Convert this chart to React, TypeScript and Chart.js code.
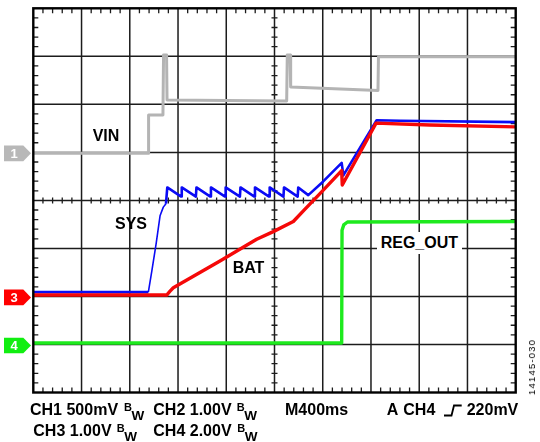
import React, { useEffect, useRef } from "react";
import { Chart, registerables } from "chart.js";

Chart.register(...registerables);

// ---- data (time in ms, 400 ms/div; vertical position in screen divisions 0..8) ----
const TIME_PER_DIV = 400;
const X_DIVS = 10;
const Y_DIVS = 8;

const VIN_T = [0, 954, 956, 1075, 1080, 1105, 1109, 2101, 2106, 2129, 2134, 2858, 2862, 4000];
const VIN_V = [4.98, 4.98, 5.78, 5.78, 7.03, 7.03, 6.09, 6.07, 7.03, 7.03, 6.36, 6.29, 6.99, 6.99];

const SYS_T = [
  0, 954, 984, 1018, 1051, 1078, 1100, 1111,
  1226, 1231, 1348, 1353, 1468, 1473, 1590, 1595, 1713, 1718,
  1833, 1838, 1955, 1960, 2074, 2079, 2192, 2197,
  2280, 2402, 2557, 2571, 2847, 3041, 4000,
];
const SYS_V = [
  2.09, 2.09, 2.55, 3.09, 3.68, 3.86, 3.93, 4.27,
  4.08, 4.27, 4.08, 4.27, 4.08, 4.27, 4.08, 4.27, 4.08, 4.27,
  4.08, 4.27, 4.08, 4.27, 4.08, 4.27, 4.08, 4.27,
  4.11, 4.39, 4.78, 4.52, 5.67, 5.66, 5.63,
];

const BAT_T = [0, 1106, 1134, 1161, 1548, 1852, 1990, 2156, 2253, 2377, 2557, 2562, 2842, 3289, 4000];
const BAT_V = [2.03, 2.03, 2.11, 2.18, 2.74, 3.19, 3.35, 3.56, 3.82, 4.14, 4.62, 4.32, 5.61, 5.57, 5.53];

const REG_T = [0, 2557, 2560, 2574, 2605, 4000];
const REG_V = [1.03, 1.03, 3.38, 3.49, 3.55, 3.56];

const MARKER_LEVELS = [4.98, 1.98, 0.98];
const MARKER_NAMES = ["1", "3", "4"];
const MARKER_COLORS = ["#b8b8b8", "#ff0000", "#11ee11"];

const SETTINGS_ROW1 = ["CH1 500mV", "CH2 1.00V"];
const SETTINGS_ROW2 = ["CH3 1.00V", "CH4 2.00V"];
const TIMEBASE = "M400ms";
const TRIGGER = ["A", "CH4", "220mV"];
const FIG_ID = "14145-030";

// ---- layout ----
const W = 540;
const H = 442;
const PLOT = { left: 33.3, top: 8.3, right: 515.7, bottom: 392.5 };
const FONT = "'Liberation Sans', Arial, Helvetica, sans-serif";
const DIV_H = (PLOT.bottom - PLOT.top) / Y_DIVS;
const levelToPx = (v: number) => PLOT.bottom - v * DIV_H;

const pts = (t: number[], v: number[]) => t.map((x, i) => ({ x, y: v[i] }));

const scopePlugin = {
  id: "scopeGrid",
  beforeDatasetsDraw(chart: any) {
    const { ctx, chartArea: a, scales } = chart;
    const xs = scales.x;
    const ys = scales.y;
    ctx.save();
    ctx.strokeStyle = "#1c1c1c";
    ctx.lineWidth = 1.5;
    ctx.beginPath();
    for (let i = 1; i < X_DIVS; i++) {
      const px = xs.getPixelForValue(i * TIME_PER_DIV);
      ctx.moveTo(px, a.top);
      ctx.lineTo(px, a.bottom);
    }
    for (let j = 1; j < Y_DIVS; j++) {
      const py = ys.getPixelForValue(j);
      ctx.moveTo(a.left, py);
      ctx.lineTo(a.right, py);
    }
    ctx.stroke();
    // minor ticks
    ctx.lineWidth = 1.3;
    ctx.beginPath();
    const cy = ys.getPixelForValue(Y_DIVS / 2);
    const cx = xs.getPixelForValue((X_DIVS / 2) * TIME_PER_DIV);
    for (let k = 1; k < X_DIVS * 5; k++) {
      if (k % 5 === 0) continue;
      const px = xs.getPixelForValue((k * TIME_PER_DIV) / 5);
      ctx.moveTo(px, a.top);
      ctx.lineTo(px, a.top + 5);
      ctx.moveTo(px, a.bottom - 5);
      ctx.lineTo(px, a.bottom);
      ctx.moveTo(px, cy - 3);
      ctx.lineTo(px, cy + 3);
    }
    for (let k = 1; k < Y_DIVS * 5; k++) {
      if (k % 5 === 0) continue;
      const py = ys.getPixelForValue(k / 5);
      ctx.moveTo(a.left, py);
      ctx.lineTo(a.left + 5, py);
      ctx.moveTo(a.right - 5, py);
      ctx.lineTo(a.right, py);
      ctx.moveTo(cx - 3, py);
      ctx.lineTo(cx + 3, py);
    }
    ctx.stroke();
    ctx.restore();
  },
  afterDatasetsDraw(chart: any) {
    const { ctx, chartArea: a, scales } = chart;
    ctx.save();
    ctx.strokeStyle = "#000";
    ctx.lineWidth = 2.4;
    ctx.strokeRect(a.left, a.top, a.right - a.left, a.bottom - a.top);
    // channel markers
    MARKER_LEVELS.forEach((lv, i) => {
      const py = scales.y.getPixelForValue(lv);
      ctx.fillStyle = MARKER_COLORS[i];
      ctx.beginPath();
      ctx.moveTo(4, py - 7.8);
      ctx.lineTo(23.3, py - 7.8);
      ctx.lineTo(31, py);
      ctx.lineTo(23.3, py + 7.8);
      ctx.lineTo(4, py + 7.8);
      ctx.closePath();
      ctx.fill();
    });
    ctx.restore();
  },
};

function Label(props: {
  x: number;
  capTop: number;
  size?: number;
  bold?: boolean;
  color?: string;
  style?: any;
  children: any;
}) {
  const size = props.size ?? 16;
  return (
    <div
      style={{
        position: "absolute",
        left: props.x,
        top: props.capTop - 0.1305 * size,
        fontSize: size,
        lineHeight: `${size}px`,
        fontFamily: FONT,
        fontWeight: props.bold === false ? "normal" : "bold",
        whiteSpace: "nowrap",
        color: props.color ?? "#000",
        ...(props.style || {}),
      }}
    >
      {props.children}
    </div>
  );
}

export default function App() {
  const ref = useRef<HTMLCanvasElement | null>(null);

  useEffect(() => {
    if (!ref.current) return;
    const chart = new Chart(ref.current, {
      type: "line",
      data: {
        datasets: [
          {
            label: "BAT",
            data: pts(BAT_T, BAT_V),
            borderColor: "#f50808",
            borderWidth: 3.4,
            order: 0,
          },
          {
            label: "SYS",
            data: pts(SYS_T, SYS_V),
            borderColor: "#0a0af5",
            borderWidth: 2.6,
            order: 1,
            segment: {
              borderWidth: (c: any) =>
                c.p1.parsed.x > 954 && c.p1.parsed.x <= 1100 ? 1.6 : 2.6,
            },
          },
          {
            label: "VIN",
            data: pts(VIN_T, VIN_V),
            borderColor: "#b4b4b4",
            borderWidth: 3,
            order: 2,
          },
          {
            label: "REG_OUT",
            data: pts(REG_T, REG_V),
            borderColor: "#1eea1e",
            borderWidth: 3.4,
            order: 3,
          },
        ] as any,
      },
      options: {
        animation: false,
        responsive: false,
        devicePixelRatio: 1,
        layout: {
          padding: {
            left: PLOT.left,
            top: PLOT.top,
            right: W - PLOT.right,
            bottom: H - PLOT.bottom,
          },
        },
        elements: {
          point: { radius: 0 },
          line: { tension: 0, borderJoinStyle: "round", borderCapStyle: "butt" },
        },
        plugins: { legend: { display: false }, tooltip: { enabled: false } },
        scales: {
          x: { type: "linear", min: 0, max: X_DIVS * TIME_PER_DIV, display: false },
          y: { type: "linear", min: 0, max: Y_DIVS, display: false },
        },
      } as any,
      plugins: [scopePlugin],
    });
    return () => chart.destroy();
  }, []);

  const row1 = 404;
  const row2 = 425;
  const bw = (x: number, cap: number, key: string) => (
    <React.Fragment key={key}>
      <Label x={x} capTop={cap - 1} size={11}>B</Label>
      <Label x={x + 7.5} capTop={cap + 6.5} size={13.5}>W</Label>
    </React.Fragment>
  );

  return (
    <div
      style={{
        position: "absolute",
        left: 0,
        top: 0,
        width: W,
        height: H,
        background: "#fff",
        overflow: "hidden",
      }}
    >
      <canvas ref={ref} width={W} height={H} style={{ position: "absolute", left: 0, top: 0, width: W, height: H }} />

      {MARKER_LEVELS.map((lv, i) => (
        <Label key={"m" + i} x={10} capTop={levelToPx(lv) - 4.7} size={13} color="#fff" style={{ width: 8, textAlign: "center" }}>
          {MARKER_NAMES[i]}
        </Label>
      ))}

      <Label x={92.7} capTop={130}>VIN</Label>
      <Label x={115} capTop={218.3}>SYS</Label>
      <Label x={232.7} capTop={261.7}>BAT</Label>
      <Label x={376.7} capTop={237.3} style={{ background: "#fff", padding: "3px 4px", marginTop: -3 }}>
        REG_OUT
      </Label>

      <Label x={30} capTop={row1}>{SETTINGS_ROW1[0]}</Label>
      {bw(124, row1, "b1")}
      <Label x={153.3} capTop={row1}>{SETTINGS_ROW1[1]}</Label>
      {bw(236.7, row1, "b2")}
      <Label x={285} capTop={row1}>{TIMEBASE}</Label>
      <Label x={386.7} capTop={row1}>{TRIGGER[0]}</Label>
      <Label x={403.3} capTop={row1}>{TRIGGER[1]}</Label>
      <svg style={{ position: "absolute", left: 442, top: row1 }} width={22} height={14}>
        <path d="M2 11.5 H9.5 L12 1.5 H19.7" stroke="#000" strokeWidth={1.8} fill="none" />
      </svg>
      <Label x={466.7} capTop={row1}>{TRIGGER[2]}</Label>

      <Label x={33.3} capTop={row2}>{SETTINGS_ROW2[0]}</Label>
      {bw(116.7, row2, "b3")}
      <Label x={153.3} capTop={row2}>{SETTINGS_ROW2[1]}</Label>
      {bw(237.3, row2, "b4")}

      <div
        style={{
          position: "absolute",
          left: 531.7,
          top: 367,
          transform: "translate(-50%, -50%) rotate(-90deg)",
          fontFamily: FONT,
          fontSize: 9.5,
          lineHeight: "10px",
          letterSpacing: 1.2,
          whiteSpace: "nowrap",
          color: "#000",
        }}
      >
        {FIG_ID}
      </div>
    </div>
  );
}
